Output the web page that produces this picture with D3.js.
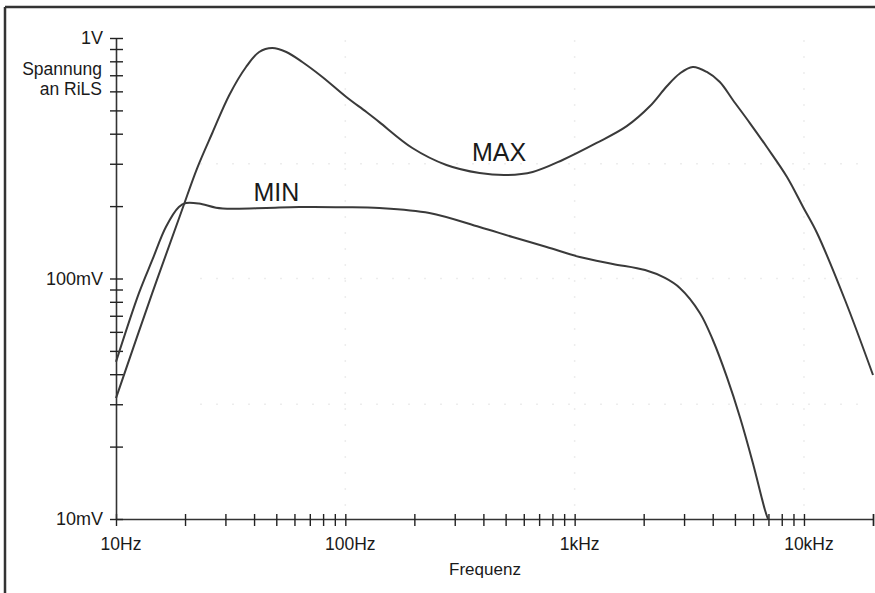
<!DOCTYPE html>
<html>
<head>
<meta charset="utf-8">
<script src="https://cdn.jsdelivr.net/npm/d3@7"></script>
<style>
  html, body { margin: 0; padding: 0; background: #fff; }
  svg { display: block; font-family: "Liberation Sans", Arial, sans-serif; }
</style>
</head>
<body>
<svg id="chart" width="875" height="593"></svg>
<script>
// ---- Data (frequency in Hz, voltage in mV) ----
const maxFreq = [10, 14.4, 19.4, 22.6, 26.3, 31.2, 36.9, 42.1, 48.0, 55.3, 64.9, 79.4, 101, 123.6, 140.7, 196, 276, 385, 505, 656, 886, 1247, 1687, 2127, 2523, 2875, 3273, 3770, 4297, 4898, 5808, 6887, 8433, 9908, 11400, 15100, 20000];
const maxMv   = [31.8, 87.1, 192.7, 287.9, 402.7, 579.5, 757.6, 874.5, 908.7, 874.5, 794.6, 688.5, 568.6, 492.4, 447, 348.9, 296.5, 274.6, 269.3, 277.3, 311, 366, 430, 520, 630, 712, 757.6, 722.4, 656, 552.5, 443, 352.1, 264.3, 198.3, 154.6, 81.4, 39.7];

const minFreq = [10, 12.6, 14.4, 16.5, 18.8, 20.2, 23.0, 27.3, 32.1, 45.2, 63.0, 99, 140.7, 232.6, 384.8, 536, 755, 1052, 1466, 2028, 2477, 2875, 3515, 4006, 4613, 5259, 5986, 6760, 6966];
const minMv   = [45, 87.1, 119.4, 163.7, 198.3, 206, 205, 197, 195, 196.4, 198.3, 198, 196.4, 187.2, 163.7, 148.8, 135.2, 122.8, 115, 108.4, 100.5, 91.3, 71.9, 55.5, 38.9, 26.5, 17.1, 10.9, 10.0];

const xTickMajor  = [10, 100, 1000, 10000];
const xTickLabels = ["10Hz", "100Hz", "1kHz", "10kHz"];
const yTickMajor  = [1000, 100, 10];
const yTickLabels = ["1V", "100mV", "10mV"];
const yTitleLines = ["Spannung", "an RiLS"];
const xTitle = "Frequenz";
const seriesLabels = [
  { text: "MAX", f: 468, v: 308 },
  { text: "MIN", f: 50,  v: 210 }
];

// ---- Scales ----
const svg = d3.select("#chart");
const x = d3.scaleLog().domain([10, 20000]).range([116, 873]);
const y = d3.scaleLog().domain([10, 1000]).range([519, 38]);

// minor ticks
const xTicksAll = [];
[10, 100, 1000, 10000].forEach(d => { for (let k = 1; k <= 9; k++) { const v = d * k; if (v <= 20000) xTicksAll.push(v); } });
xTicksAll.push(20000);
const yTicksAll = [];
[10, 100].forEach(d => { for (let k = 1; k <= 9; k++) yTicksAll.push(d * k); });
yTicksAll.push(1000);

// ---- Frame borders ----
svg.append("line").attr("x1", 5).attr("x2", 5).attr("y1", 7).attr("y2", 593)
  .attr("stroke", "#333").attr("stroke-width", 2.5);
svg.append("line").attr("x1", 5).attr("x2", 875).attr("y1", 7).attr("y2", 7)
  .attr("stroke", "#333").attr("stroke-width", 2.5);

// ---- faint grid dots ----
const grid = svg.append("g").attr("stroke", "#ededed").attr("stroke-width", 1.5).attr("stroke-dasharray", "2,14");
[100, 1000, 10000].forEach(f => grid.append("line").attr("x1", x(f)).attr("x2", x(f)).attr("y1", 40).attr("y2", 515));
[30, 100, 300].forEach(v => grid.append("line").attr("y1", y(v)).attr("y2", y(v)).attr("x1", 200).attr("x2", 860));

// ---- X axis ----
const gx = svg.append("g").attr("transform", `translate(0,${y(10)})`)
  .call(d3.axisBottom(x).tickValues(xTicksAll).tickSize(7).tickSizeOuter(0).tickFormat(""));
gx.select(".domain").attr("stroke", "#333").attr("stroke-width", 1.6);
gx.selectAll(".tick line").attr("y1", -5).attr("stroke", "#222").attr("stroke-width", 1.4);

// ---- Y axis ----
const gy = svg.append("g").attr("transform", `translate(${x(10)},0)`)
  .call(d3.axisLeft(y).tickValues(yTicksAll).tickSize(6).tickSizeOuter(0).tickFormat(""));
gy.select(".domain").attr("stroke", "#333").attr("stroke-width", 1.6);
gy.selectAll(".tick line").attr("x2", -6).attr("x1", 7).attr("stroke", "#222").attr("stroke-width", 1.4);

// ---- Tick labels ----
svg.append("g").selectAll("text").data(xTickMajor).join("text")
  .attr("x", d => x(d) + 5).attr("y", 550)
  .attr("text-anchor", "middle").attr("font-size", 17.5).attr("fill", "#1a1a1a")
  .text((d, i) => xTickLabels[i]);

svg.append("g").selectAll("text").data(yTickMajor).join("text")
  .attr("x", 103).attr("y", d => y(d)).attr("dy", "0.36em")
  .attr("text-anchor", "end").attr("font-size", 18).attr("fill", "#1a1a1a")
  .text((d, i) => yTickLabels[i]);

// ---- Axis titles ----
svg.append("g").selectAll("text").data(yTitleLines).join("text")
  .attr("x", 102).attr("y", (d, i) => 75 + i * 20)
  .attr("text-anchor", "end").attr("font-size", 17.5).attr("fill", "#1a1a1a")
  .text(d => d);

svg.append("text").attr("x", 485).attr("y", 575)
  .attr("text-anchor", "middle").attr("font-size", 17).attr("fill", "#1a1a1a")
  .text(xTitle);

// ---- Curves ----
const line = d3.line().x(d => x(d[0])).y(d => y(d[1])).curve(d3.curveCatmullRom.alpha(0.5));
const maxData = maxFreq.map((f, i) => [f, maxMv[i]]);
const minData = minFreq.map((f, i) => [f, minMv[i]]);
svg.append("path").datum(maxData).attr("d", line)
  .attr("fill", "none").attr("stroke", "#3a3a3a").attr("stroke-width", 2);
svg.append("path").datum(minData).attr("d", line)
  .attr("fill", "none").attr("stroke", "#3a3a3a").attr("stroke-width", 2);

// ---- Series labels ----
svg.append("g").selectAll("text").data(seriesLabels).join("text")
  .attr("x", d => x(d.f)).attr("y", d => y(d.v))
  .attr("text-anchor", "middle").attr("font-size", 25).attr("fill", "#1a1a1a")
  .text(d => d.text);
</script>
</body>
</html>
